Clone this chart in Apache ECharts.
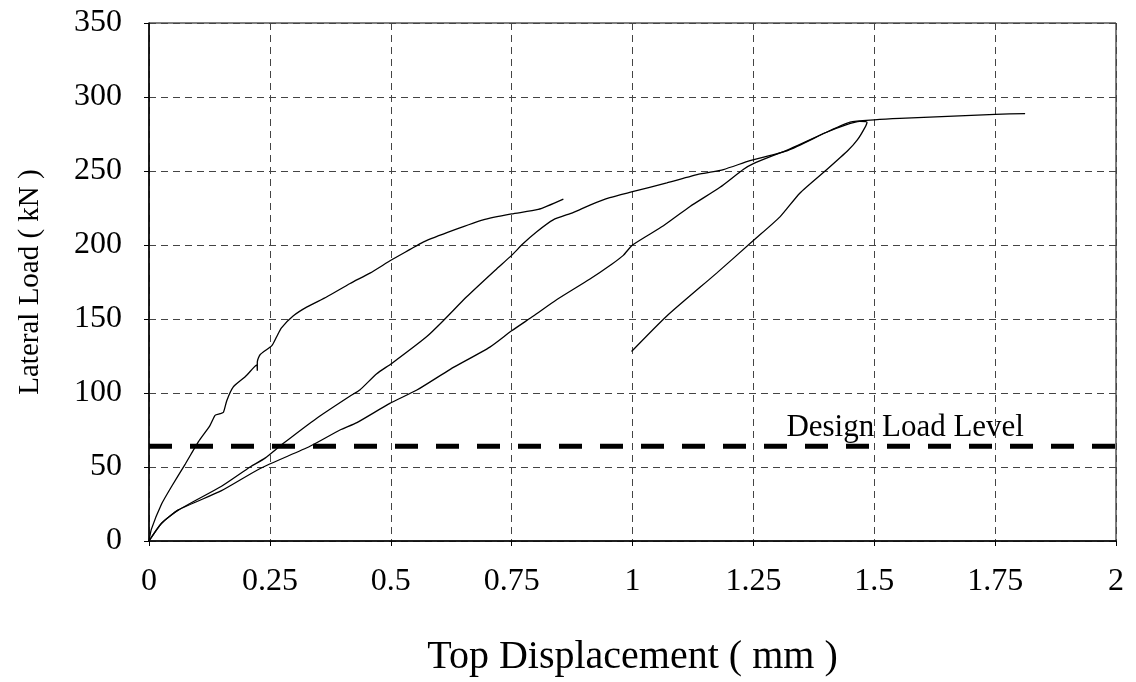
<!DOCTYPE html>
<html>
<head>
<meta charset="utf-8">
<script src="https://cdn.jsdelivr.net/npm/echarts@6/dist/echarts.min.js"></script>
<style>
  html, body { margin: 0; padding: 0; background: #fff; }
  #chart { width: 1136px; height: 682px; }
</style>
</head>
<body>
<div id="chart"></div>
<script>
// first loading, steep curve  [displacement mm, load kN]
const firstLoad = [
  [0, 0], [0.005, 8], [0.026, 25], [0.047, 37], [0.075, 52], [0.102, 67],
  [0.126, 78], [0.137, 85], [0.147, 86], [0.154, 87], [0.161, 95], [0.174, 104],
  [0.199, 111], [0.216, 117], [0.223, 119], [0.224, 115], [0.224, 121], [0.23, 126],
  [0.254, 132], [0.264, 138], [0.274, 144], [0.298, 152], [0.326, 158], [0.368, 165],
  [0.416, 174], [0.457, 181], [0.502, 190], [0.54, 197], [0.567, 202], [0.63, 210],
  [0.691, 217], [0.75, 221], [0.805, 224], [0.857, 231]
];

// reloading, lower branch up to the peak, then unloading
const reloadLower = [
  [0, 0], [0.026, 12], [0.061, 21], [0.15, 34], [0.23, 49], [0.333, 64],
  [0.395, 75], [0.43, 80], [0.498, 93], [0.554, 102], [0.623, 116], [0.705, 131],
  [0.75, 142], [0.795, 152], [0.843, 163], [0.912, 177], [0.957, 187], [0.981, 193],
  [1.0, 200], [1.064, 213], [1.119, 226], [1.181, 239], [1.229, 251], [1.25, 255],
  [1.326, 265], [1.4, 276], [1.44, 281], [1.47, 283.5], [1.485, 283], [1.48, 279],
  [1.465, 271], [1.446, 264], [1.402, 251], [1.346, 235], [1.305, 219], [1.25, 203],
  [1.174, 181], [1.071, 152], [0.998, 128]
];

// final loading, upper branch out to 1.81 mm
const finalLoad = [
  [0, 0], [0.026, 12], [0.061, 21], [0.15, 37], [0.209, 50], [0.24, 56],
  [0.278, 66], [0.347, 83], [0.416, 98], [0.436, 102], [0.471, 113], [0.502, 120],
  [0.574, 138], [0.609, 149], [0.657, 165], [0.716, 183], [0.75, 193], [0.774, 201],
  [0.802, 209], [0.836, 217], [0.878, 222], [0.912, 227], [0.953, 232], [1.0, 236],
  [1.071, 242], [1.14, 248], [1.188, 251], [1.243, 257], [1.322, 264], [1.4, 276],
  [1.45, 283], [1.5, 284.5], [1.553, 285.5], [1.75, 288.3], [1.812, 288.8]
];

const designLoad = 64;
const designLine = [[0, designLoad], [2, designLoad]];
const designLabelAt = [1.564, designLoad];

const xTicks = { min: 0, max: 2, interval: 0.25 };
const yTicks = { min: 0, max: 350, interval: 50 };

const font = 'Liberation Serif, Times New Roman, serif';
const gridLine = { show: true, lineStyle: { color: '#444', type: [7, 5], width: 1 } };

function curve(data) {
  return {
    type: 'line',
    data: data,
    showSymbol: false,
    smooth: 0.2,
    lineStyle: { color: '#000', width: 1.3 },
    z: 3
  };
}

const chart = echarts.init(document.getElementById('chart'));
chart.setOption({
  animation: false,
  backgroundColor: '#fff',
  grid: {
    left: 149, top: 23, right: 20, bottom: 141,
    show: true, borderColor: '#000', borderWidth: 1
  },
  xAxis: {
    type: 'value',
    min: xTicks.min, max: xTicks.max, interval: xTicks.interval,
    name: 'Top Displacement ( mm )',
    nameLocation: 'middle',
    nameGap: 96,
    nameTextStyle: { fontFamily: font, fontSize: 40, color: '#000' },
    axisLine: { lineStyle: { color: '#000', width: 1.5 } },
    axisTick: { show: true, length: 5, lineStyle: { color: '#000' } },
    axisLabel: { margin: 25, fontFamily: font, fontSize: 32, color: '#000' },
    splitLine: gridLine
  },
  yAxis: {
    type: 'value',
    min: yTicks.min, max: yTicks.max, interval: yTicks.interval,
    name: 'Lateral Load ( kN )',
    nameLocation: 'middle',
    nameGap: 104,
    nameTextStyle: { fontFamily: font, fontSize: 29, color: '#000' },
    axisLine: { show: true, lineStyle: { color: '#000', width: 1.5 } },
    axisTick: { show: true, length: 5, lineStyle: { color: '#000' } },
    axisLabel: { margin: 27, fontFamily: font, fontSize: 32, color: '#000' },
    splitLine: gridLine
  },
  series: [
    curve(firstLoad),
    curve(reloadLower),
    curve(finalLoad),
    {
      type: 'line',
      data: designLine,
      showSymbol: false,
      clip: false,
      lineStyle: { color: '#000', width: 5, type: [23, 18] },
      z: 4
    },
    {
      type: 'scatter',
      data: [designLabelAt],
      symbolSize: 1,
      itemStyle: { color: 'transparent', opacity: 1 },
      label: {
        show: true,
        formatter: 'Design Load Level',
        position: 'inside',
        offset: [0, -18],
        fontFamily: font,
        fontSize: 31,
        color: '#000'
      },
      z: 5
    }
  ]
});
</script>
</body>
</html>
